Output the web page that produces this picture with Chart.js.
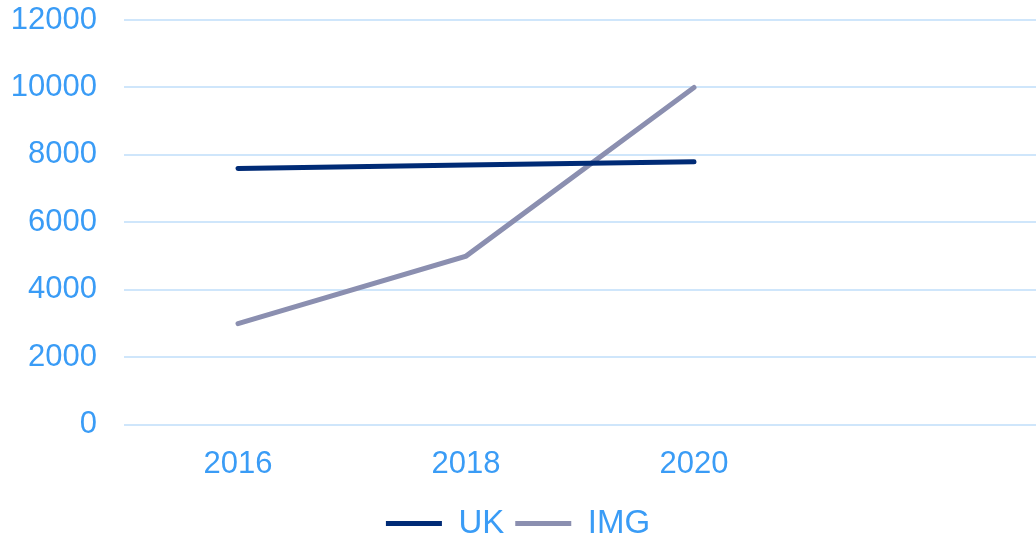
<!DOCTYPE html>
<html>
<head>
<meta charset="utf-8">
<script src="https://cdn.jsdelivr.net/npm/chart.js@4/dist/chart.umd.min.js"></script>
<style>
  html, body { margin: 0; padding: 0; background: #fff; }
  #wrap { width: 1036px; height: 535px; }
</style>
</head>
<body>
<div id="wrap"><canvas id="chart"></canvas></div>
<script>
// data
const years = ['2016', '2018', '2020', ''];
const ukValues = [7600, 7700, 7800];
const imgValues = [3000, 5000, 10000];

const TXT = '#3a9cf6';
const FAMILY = '"Liberation Sans", Arial, sans-serif';
const FONT = { family: FAMILY, size: 31 };

new Chart(document.getElementById('chart'), {
  type: 'line',
  data: {
    labels: years,
    datasets: [
      {
        label: 'UK',
        data: ukValues,
        borderColor: '#002b76',
        backgroundColor: '#002b76',
        borderWidth: 5,
        borderCapStyle: 'round',
        pointRadius: 0,
        tension: 0
      },
      {
        label: 'IMG',
        data: imgValues,
        borderColor: '#8b8fb0',
        backgroundColor: '#8b8fb0',
        borderWidth: 5,
        borderCapStyle: 'round',
        pointRadius: 0,
        tension: 0
      }
    ]
  },
  options: {
    responsive: true,
    maintainAspectRatio: false,
    animation: false,
    layout: { padding: { top: 20, right: 0, bottom: -15, left: 0 } },
    plugins: {
      tooltip: { enabled: false },
      legend: {
        position: 'bottom',
        labels: {
          usePointStyle: true,
          pointStyle: 'line',
          pointStyleWidth: 56,
          color: TXT,
          font: { family: FAMILY, size: 33 },
          padding: 11
        }
      }
    },
    scales: {
      x: {
        offset: true,
        grid: { display: false },
        border: { display: false },
        ticks: { color: TXT, font: FONT, padding: 13, maxRotation: 0 }
      },
      y: {
        min: 0,
        max: 12000,
        ticks: { stepSize: 2000, color: TXT, font: FONT, padding: 27, callback: v => String(v) },
        grid: { color: '#cfe6fb', lineWidth: 2, drawTicks: false },
        border: { display: false },
        afterFit: s => { s.width = 124; s.paddingTop = 0; s.paddingBottom = 0; }
      }
    }
  }
});
</script>
</body>
</html>
